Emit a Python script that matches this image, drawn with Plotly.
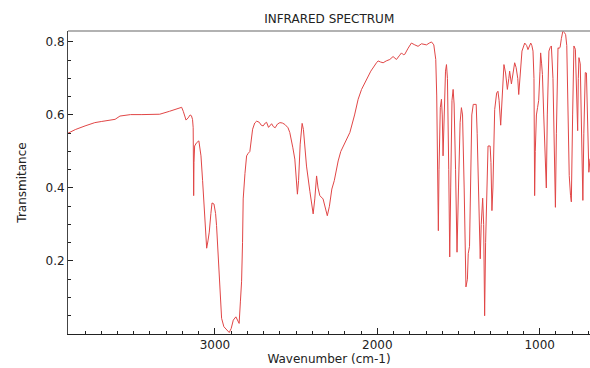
import plotly.graph_objects as go

wavenumber = [
    3905, 3860, 3800, 3740, 3700, 3650, 3615, 3585, 3550, 3520, 3450, 3400, 3340, 3280,
    3215, 3205, 3195, 3185, 3178, 3165, 3153, 3145, 3138, 3134, 3131, 3129, 3125, 3113,
    3099, 3086, 3076, 3068, 3060, 3051, 3043, 3035, 3025, 3018, 3006, 2996, 2990, 2981,
    2974, 2965, 2959, 2945, 2928, 2912, 2900, 2887, 2871, 2860, 2851, 2843, 2836, 2830,
    2826, 2815, 2805, 2795, 2785, 2768, 2755, 2743, 2727, 2715, 2703, 2690, 2682, 2670,
    2661, 2651, 2640, 2629, 2615, 2600, 2585, 2569, 2550, 2539, 2520, 2508, 2492, 2485,
    2475, 2463, 2455, 2445, 2436, 2415, 2400, 2395, 2385, 2374, 2365, 2354, 2334, 2320,
    2308, 2295, 2280, 2265, 2250, 2241, 2225, 2210, 2190, 2169, 2140, 2118, 2097, 2066,
    2040, 2005, 1995, 1980, 1964, 1945, 1923, 1903, 1890, 1882, 1865, 1851, 1840, 1831,
    1810, 1790, 1769, 1749, 1728, 1710, 1697, 1680, 1666, 1652, 1646, 1640, 1634, 1628,
    1624, 1620, 1612, 1605, 1600, 1595, 1588, 1580, 1574, 1568, 1560, 1554, 1548, 1540,
    1533, 1527, 1518, 1509, 1500, 1490, 1482, 1475, 1465, 1454, 1445, 1440, 1432, 1426,
    1418, 1409, 1400, 1391, 1385, 1375, 1366, 1360, 1351, 1345, 1339, 1333, 1325, 1318,
    1305, 1300, 1294, 1288, 1277, 1265, 1257, 1250, 1240, 1232, 1220, 1210, 1199, 1190,
    1185, 1174, 1165, 1154, 1145, 1135, 1129, 1120, 1109, 1092, 1080, 1072, 1063, 1055,
    1048, 1041, 1035, 1031, 1027, 1020, 1013, 1006, 998, 994, 988, 983, 975, 966,
    959, 953, 943, 935, 928, 918, 910, 903, 897, 887, 880, 874, 866, 857,
    848, 840, 833, 826, 818, 810, 805, 797, 789, 780, 770, 766, 762, 758,
    750, 742, 734, 728, 719, 712, 705, 697, 690,
]

transmittance = [
    0.550, 0.560, 0.570, 0.579, 0.582, 0.585, 0.588, 0.597, 0.600, 0.601, 0.601, 0.601, 0.602, 0.610,
    0.620, 0.621, 0.610, 0.595, 0.586, 0.592, 0.600, 0.598, 0.588, 0.565, 0.379, 0.470, 0.515, 0.524,
    0.529, 0.488, 0.420, 0.351, 0.290, 0.235, 0.255, 0.279, 0.330, 0.359, 0.356, 0.330, 0.297, 0.220,
    0.143, 0.080, 0.043, 0.020, 0.011, 0.004, 0.015, 0.038, 0.047, 0.035, 0.029, 0.090, 0.143, 0.250,
    0.370, 0.440, 0.488, 0.495, 0.500, 0.561, 0.578, 0.583, 0.580, 0.572, 0.570, 0.578, 0.580, 0.566,
    0.571, 0.576, 0.568, 0.565, 0.575, 0.579, 0.578, 0.574, 0.565, 0.552, 0.510, 0.479, 0.383, 0.420,
    0.520, 0.577, 0.560, 0.510, 0.460, 0.390, 0.335, 0.329, 0.370, 0.433, 0.400, 0.379, 0.370, 0.345,
    0.324, 0.350, 0.397, 0.420, 0.455, 0.474, 0.500, 0.515, 0.535, 0.552, 0.600, 0.643, 0.670, 0.697,
    0.720, 0.743, 0.748, 0.745, 0.743, 0.748, 0.752, 0.760, 0.755, 0.752, 0.762, 0.770, 0.765, 0.766,
    0.783, 0.797, 0.792, 0.788, 0.795, 0.792, 0.792, 0.797, 0.800, 0.792, 0.775, 0.752, 0.652, 0.450,
    0.283, 0.450, 0.620, 0.643, 0.600, 0.488, 0.600, 0.720, 0.738, 0.700, 0.450, 0.211, 0.400, 0.640,
    0.670, 0.630, 0.450, 0.224, 0.400, 0.580, 0.620, 0.600, 0.400, 0.129, 0.150, 0.220, 0.240, 0.450,
    0.600, 0.629, 0.630, 0.629, 0.550, 0.400, 0.206, 0.300, 0.372, 0.300, 0.050, 0.250, 0.450, 0.515,
    0.515, 0.470, 0.338, 0.400, 0.615, 0.660, 0.665, 0.640, 0.572, 0.650, 0.738, 0.715, 0.670, 0.700,
    0.720, 0.685, 0.710, 0.743, 0.730, 0.700, 0.656, 0.720, 0.775, 0.797, 0.790, 0.779, 0.790, 0.797,
    0.790, 0.775, 0.700, 0.379, 0.500, 0.600, 0.620, 0.640, 0.720, 0.770, 0.740, 0.711, 0.600, 0.480,
    0.400, 0.600, 0.775, 0.785, 0.789, 0.700, 0.500, 0.347, 0.550, 0.784, 0.782, 0.786, 0.810, 0.830,
    0.826, 0.820, 0.790, 0.650, 0.434, 0.380, 0.362, 0.600, 0.789, 0.780, 0.600, 0.557, 0.700, 0.757,
    0.740, 0.550, 0.366, 0.550, 0.716, 0.715, 0.600, 0.443, 0.480,
]

x_ticks = [3000, 2000, 1000]
x_tick_labels = ["3000", "2000", "1000"]
y_ticks = [0.2, 0.4, 0.6, 0.8]
y_tick_labels = ["0.2", "0.4", "0.6", "0.8"]

fig = go.Figure()
fig.add_trace(go.Scatter(
    x=wavenumber, y=transmittance, mode="lines",
    line=dict(color="rgb(225,70,70)", width=1),
    showlegend=False,
))

font = "DejaVu Sans, sans-serif"
fig.update_layout(
    width=590, height=368,
    margin=dict(l=68, r=0, t=31, b=34, autoexpand=False),
    paper_bgcolor="white", plot_bgcolor="white",
    title=dict(text="INFRARED SPECTRUM", x=0.558, xanchor="center", y=0.95, yanchor="middle",
               font=dict(family=font, size=12, color="#222")),
    font=dict(family=font, size=12, color="#222"),
)
fig.update_xaxes(
    range=[3905, 690], autorange=False, automargin=False,
    tickvals=x_ticks, ticktext=x_tick_labels,
    ticks="inside", ticklen=6, tickcolor="#222",
    minor=dict(dtick=100, ticks="inside", ticklen=3, tickcolor="#222", showgrid=False),
    showline=True, linecolor="#222", linewidth=1, mirror=False,
    showgrid=False, zeroline=False,
    title=dict(text="Wavenumber (cm-1)", font=dict(family=font, size=12), standoff=2),
)
fig.update_yaxes(
    range=[0.0, 0.83], autorange=False, automargin=False,
    tickvals=y_ticks, ticktext=y_tick_labels,
    ticks="inside", ticklen=5, tickcolor="#222",
    minor=dict(dtick=0.05, ticks="inside", ticklen=3, tickcolor="#222", showgrid=False),
    showline=True, linecolor="#444", linewidth=1, mirror=False,
    showgrid=False, zeroline=False,
    title=dict(text="Transmitance", font=dict(family=font, size=12), standoff=16),
)
fig.add_shape(type="line", xref="paper", yref="paper", x0=0, x1=1, y0=1, y1=1,
              line=dict(color="#999", width=1.5))

fig.write_html("out.html", config={"displayModeBar": False},
               post_script="document.body.style.margin='0';document.body.style.overflow='hidden';")
